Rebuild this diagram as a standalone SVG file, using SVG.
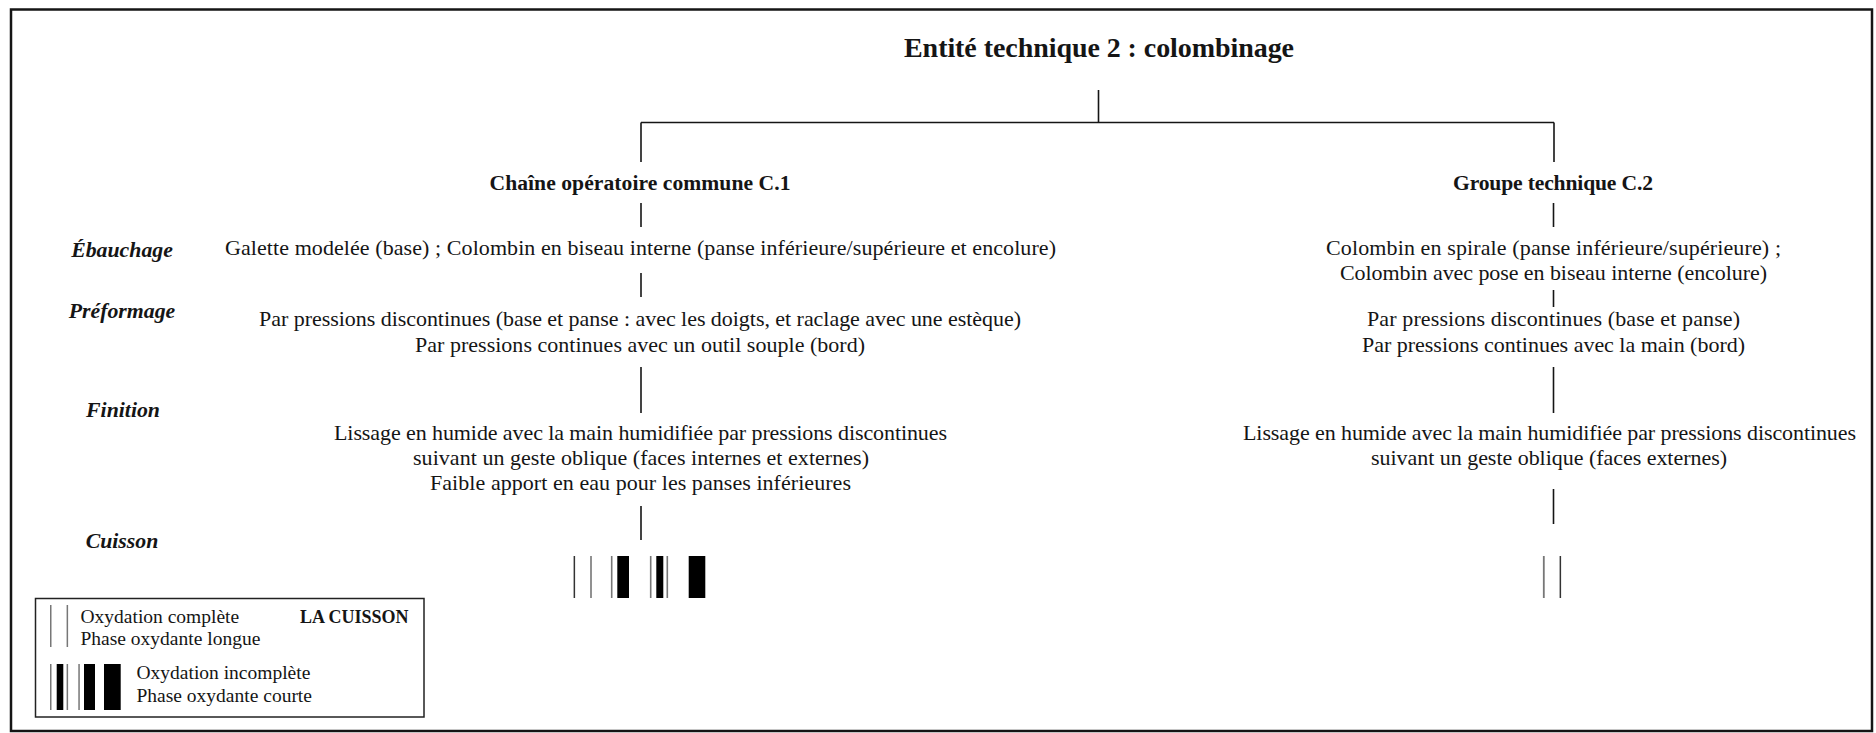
<svg xmlns="http://www.w3.org/2000/svg" width="1876" height="733" viewBox="0 0 1876 733">
<style>
text{font-family:"Liberation Serif","Times New Roman",serif;fill:#151515}
.t{font-size:28px;font-weight:bold}
.h{font-size:21.6px;font-weight:bold}
.b{font-size:22px}
.lab{font-size:21.8px;font-weight:bold;font-style:italic}
.lg{font-size:19.5px}
.lgb{font-size:18px;font-weight:bold}
.c{text-anchor:middle}
.con line{stroke:#151515;stroke-width:1.6}
.thin{fill:#333}
.gray{fill:#777}
.blk{fill:#000}
</style>
<rect x="0" y="0" width="1876" height="733" fill="#fff"/>
<rect x="11" y="9.5" width="1861" height="721.5" fill="none" stroke="#151515" stroke-width="2.5"/>

<g id="connectors" class="con">
<line x1="1098.5" y1="90" x2="1098.5" y2="122.5"/>
<line x1="641" y1="122.5" x2="1554" y2="122.5"/>
<line x1="641" y1="122.5" x2="641" y2="162"/>
<line x1="1554" y1="122.5" x2="1554" y2="162"/>
<line x1="641" y1="203" x2="641" y2="227"/>
<line x1="641" y1="273" x2="641" y2="297"/>
<line x1="641" y1="367" x2="641" y2="413"/>
<line x1="641" y1="506" x2="641" y2="540"/>
<line x1="1553.5" y1="203" x2="1553.5" y2="227"/>
<line x1="1553.5" y1="290" x2="1553.5" y2="307"/>
<line x1="1553.5" y1="367" x2="1553.5" y2="413"/>
<line x1="1553.5" y1="489" x2="1553.5" y2="524"/>
</g>

<g id="title"><text class="t c" x="1099" y="57" textLength="390">Entité technique 2 : colombinage</text></g>
<g id="c1-head"><text class="h c" x="640" y="190" textLength="301">Chaîne opératoire commune C.1</text></g>
<g id="c2-head"><text class="h c" x="1553" y="190" textLength="200">Groupe technique C.2</text></g>

<g id="label-ebauchage"><text class="lab c" x="122" y="257">Ébauchage</text></g>
<g id="label-preformage"><text class="lab c" x="122" y="318">Préformage</text></g>
<g id="label-finition"><text class="lab c" x="123" y="417">Finition</text></g>
<g id="label-cuisson"><text class="lab c" x="122" y="548">Cuisson</text></g>

<g id="c1-ebauchage"><text class="b c" x="640.5" y="255" textLength="831">Galette modelée (base) ; Colombin en biseau interne (panse inférieure/supérieure et encolure)</text></g>
<g id="c1-preformage">
<text class="b c" x="640" y="326" textLength="762">Par pressions discontinues (base et panse : avec les doigts, et raclage avec une estèque)</text>
<text class="b c" x="640" y="352" textLength="450">Par pressions continues avec un outil souple (bord)</text>
</g>
<g id="c1-finition">
<text class="b c" x="640.5" y="440" textLength="613">Lissage en humide avec la main humidifiée par pressions discontinues</text>
<text class="b c" x="641" y="465" textLength="456">suivant un geste oblique (faces internes et externes)</text>
<text class="b c" x="640.5" y="490" textLength="421">Faible apport en eau pour les panses inférieures</text>
</g>
<g id="c1-cuisson">
<rect class="thin" x="573.6" y="556" width="1.5" height="42"/>
<rect class="gray" x="590.2" y="556" width="1.6" height="42"/>
<rect class="gray" x="610.9" y="556" width="1.6" height="42"/>
<rect class="blk" x="617.3" y="556" width="11.7" height="42"/>
<rect class="gray" x="649.9" y="556" width="1.6" height="42"/>
<rect class="blk" x="656.3" y="556" width="7" height="42"/>
<rect class="gray" x="666.5" y="556" width="1.6" height="42"/>
<rect class="blk" x="688.7" y="556" width="16.6" height="42"/>
</g>

<g id="c2-ebauchage">
<text class="b c" x="1553.5" y="255" textLength="455">Colombin en spirale (panse inférieure/supérieure) ;</text>
<text class="b c" x="1553.5" y="280" textLength="427">Colombin avec pose en biseau interne (encolure)</text>
</g>
<g id="c2-preformage">
<text class="b c" x="1553.5" y="326" textLength="373">Par pressions discontinues (base et panse)</text>
<text class="b c" x="1553.5" y="352" textLength="383">Par pressions continues avec la main (bord)</text>
</g>
<g id="c2-finition">
<text class="b c" x="1549.5" y="440" textLength="613">Lissage en humide avec la main humidifiée par pressions discontinues</text>
<text class="b c" x="1549" y="465" textLength="356">suivant un geste oblique (faces externes)</text>
</g>
<g id="c2-cuisson">
<rect class="gray" x="1542.9" y="556" width="1.8" height="42"/>
<rect class="thin" x="1559.6" y="556" width="1.5" height="42"/>
</g>

<g id="legend">
<rect x="35.5" y="598.5" width="388.5" height="118.5" fill="none" stroke="#222" stroke-width="1.5"/>
<rect class="gray" x="50" y="605" width="1.5" height="42"/>
<rect class="gray" x="66.6" y="605" width="1.5" height="42"/>
<text class="lg" x="80.5" y="623">Oxydation complète</text>
<text class="lg" x="80.5" y="645">Phase oxydante longue</text>
<text class="lgb" x="300" y="623">LA CUISSON</text>
<rect class="gray" x="50" y="664" width="1.5" height="46"/>
<rect class="blk" x="56.7" y="664" width="6.6" height="46"/>
<rect class="gray" x="66.6" y="664" width="1.5" height="46"/>
<rect class="gray" x="78.3" y="664" width="1.5" height="46"/>
<rect class="blk" x="84" y="664" width="11" height="46"/>
<rect class="blk" x="104" y="664" width="16.7" height="46"/>
<text class="lg" x="136.5" y="679">Oxydation incomplète</text>
<text class="lg" x="136.5" y="702">Phase oxydante courte</text>
</g>
</svg>
